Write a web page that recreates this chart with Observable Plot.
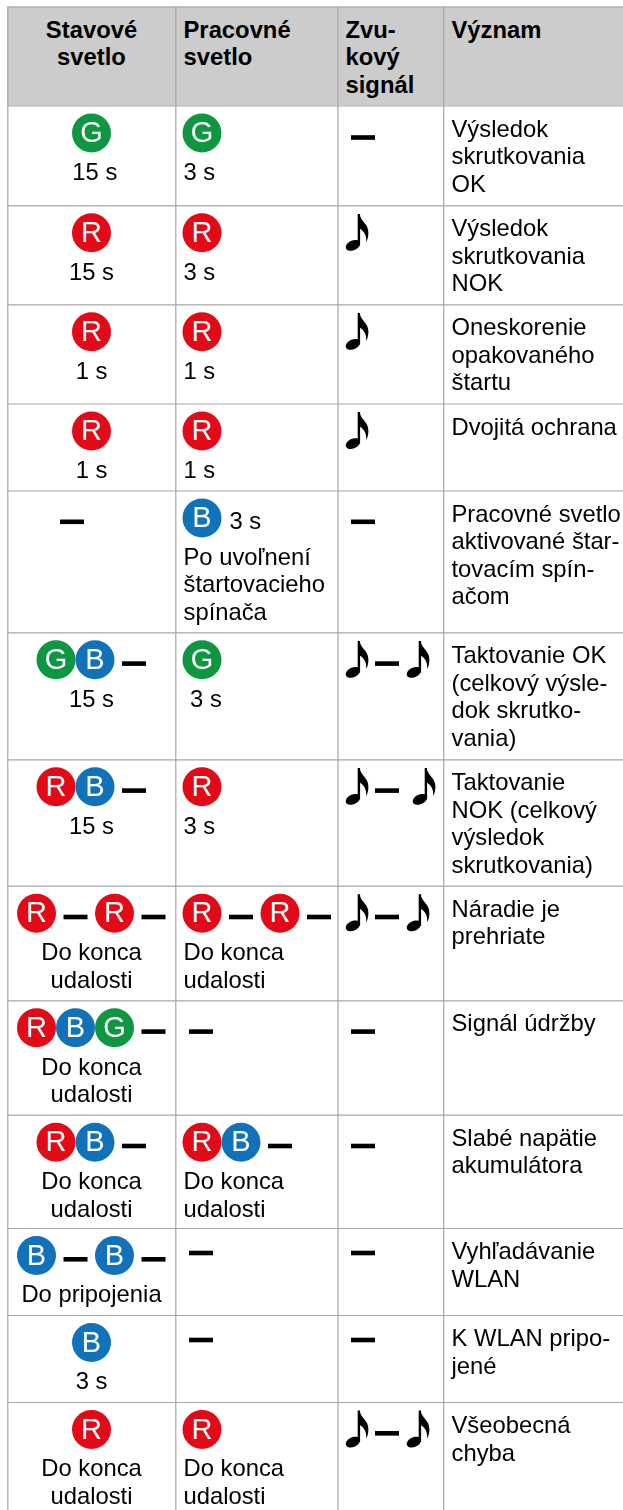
<!DOCTYPE html>
<html>
<head>
<meta charset="utf-8">
<style>html,body{margin:0;padding:0;background:#fff}svg{display:block}</style>
<script src="https://cdn.jsdelivr.net/npm/d3@7"></script>
<script src="https://cdn.jsdelivr.net/npm/@observablehq/plot@0.6"></script>
</head>
<body>
<div id="chart"></div>
<script>
// --- content ---
const headers = ["Stavové\nsvetlo", "Pracovné\nsvetlo", "Zvu-\nkový\nsignál", "Význam"];
const statusLights = ["G","R","R","R","- ","GB-","RB-","R-R-","RBG-","RB-","B-B-","B","R"];
const statusLabels = [" 15 s","15 s","1 s","1 s","","15 s","15 s","Do konca\nudalosti","Do konca\nudalosti","Do konca\nudalosti","Do pripojenia","3 s","Do konca\nudalosti"];
const workLights = ["G","R","R","R","B","G","R","R-R-","-","RB-","-","-","R"];
const workInline = ["","","","","3 s","","","","","","","",""];
const workLabels = ["3 s","3 s","1 s","1 s","Po uvoľnení\nštartovacieho\nspínača"," 3 s","3 s","Do konca\nudalosti","","Do konca\nudalosti","","","Do konca\nudalosti"];
const sounds = ["-","N","N","N","-","N-N","N- N","N-N","-","-","-","-","N-N"];
const meanings = [
  "Výsledok\nskrutkovania\nOK","Výsledok\nskrutkovania\nNOK","Oneskorenie\nopakovaného\nštartu","Dvojitá ochrana",
  "Pracovné svetlo\naktivované štar-\ntovacím spín-\načom","Taktovanie OK\n(celkový výsle-\ndok skrutko-\nvania)",
  "Taktovanie\nNOK (celkový\nvýsledok\nskrutkovania)","Náradie je\nprehriate","Signál údržby","Slabé napätie\nakumulátora",
  "Vyhľadávanie\nWLAN","K WLAN pripo-\njené","Všeobecná\nchyba"
];
const lightColors = {G:"#0f9640", R:"#e30a17", B:"#1272b9"};

// --- layout of the table grid, in page units ---
const colEdges = [7.3, 175.3, 337.5, 443.2];
const rowEdges = [6.5,105.5,205.3,304.3,403.5,490.5,632.3,759.3,885.7,1000.3,1114.7,1228,1315,1402];
const pageW = 623, pageH = 1510;
const status_cx = 91, workX = 182, soundX = 345, textX = [183, 451];
const lightW = 39, dashW = 24, dashIn = 8, circleY = 27, dashY = 31.3, raisedDashY = 25, dashH = 4.6;
const raisedDashRows = [10, 11];
const noteW = 30, soundDashW = 31, gapW = 6;

// eighth-note glyph as a Plot dot symbol, origin at the centre of the note head
const noteSymbol = {
  draw(ctx) {
    const rx = 7.6, ry = 4.8, tilt = -25 * Math.PI / 180;
    for (let i = 0; i < 32; i++) {
      const a = i / 32 * 2 * Math.PI;
      const px = rx * Math.cos(a) * Math.cos(tilt) - ry * Math.sin(a) * Math.sin(tilt);
      const py = rx * Math.cos(a) * Math.sin(tilt) + ry * Math.sin(a) * Math.cos(tilt);
      i ? ctx.lineTo(px, py) : ctx.moveTo(px, py);
    }
    ctx.closePath();
    ctx.moveTo(4.8, 0); ctx.lineTo(4.8, -31.5); ctx.lineTo(7.2, -31.5); ctx.lineTo(7.2, 0); ctx.closePath();
    ctx.moveTo(6.8, -31.5);
    ctx.bezierCurveTo(7.5, -24, 15.5, -22, 15.5, -13);
    ctx.bezierCurveTo(15.5, -9, 14.8, -6, 13.2, -3.5);
    ctx.bezierCurveTo(13.8, -10, 11.5, -14, 7, -17);
    ctx.closePath();
  }
};

const dots = [], dashes = [], notes = [];
function layLights(str, row, startX) {
  const top = rowEdges[row + 1];
  str.split("").forEach((c, i) => {
    const p = startX + i * lightW;
    if (c === "-") {
      const solo = str === "-" && raisedDashRows.includes(row);
      const shift = str === "-" ? 1 : 0;
      dashes.push({x1: p + dashIn - shift, x2: p + dashIn + dashW - shift, y: top + (solo ? raisedDashY : dashY)});
    } else if (c !== " ") {
      dots.push({x: p + lightW / 2, y: top + circleY, c});
    }
  });
}
statusLights.forEach((s, r) => {
  const last = s[s.length - 1];
  const extent = lightW * (s.length - 1) + (last === "-" ? dashIn + dashW : lightW);
  layLights(s, r, status_cx - extent / 2);
});
workLights.forEach((s, r) => layLights(s, r, workX));
sounds.forEach((s, r) => {
  const top = rowEdges[r + 1];
  let p = soundX;
  s.split("").forEach((c, i) => {
    if (c === "N") { notes.push({x: p + 7.4, y: top + 39.6}); p += noteW; }
    else if (c === " ") { p += gapW; }
    else {
      const off = i === 0 ? gapW : 0;
      const solo = raisedDashRows.includes(r);
      dashes.push({x1: p + off, x2: p + off + dashW, y: top + (solo ? raisedDashY : dashY) + (r === 0 ? 0.7 : 0)});
      p += soundDashW;
    }
  });
});

const bodyRows = d3.range(meanings.length);
const textOpts = {fontFamily: "Liberation Sans", fontSize: 23.8, lineHeight: 27.5 / 23.8, lineAnchor: "top", fill: "#000"};

const chart = Plot.plot({
  width: pageW, height: pageH,
  margin: 0,
  style: {filter: "blur(0.3px)"},
  x: {domain: [0, pageW], range: [0, pageW], axis: null},
  y: {domain: [0, pageH], range: [0, pageH], axis: null},
  marks: [
    Plot.rect([0], {x1: colEdges[0], x2: pageW, y1: rowEdges[0], y2: rowEdges[1], fill: "#cccccc"}),
    Plot.ruleY(rowEdges, {x1: colEdges[0], x2: pageW, stroke: "#a6a6a6", strokeWidth: 1.2, strokeOpacity: 1}),
    Plot.ruleX(colEdges, {y1: rowEdges[0], y2: pageH, stroke: "#a6a6a6", strokeWidth: 1.2, strokeOpacity: 1}),
    // header
    Plot.text(headers.slice(1), {...textOpts, text: d => d, fontWeight: "bold",
      x: (d, i) => i === 0 ? textX[0] : i === 1 ? soundX : textX[1],
      y: () => rowEdges[0] + 11, textAnchor: "start"}),
    Plot.text(headers.slice(0, 1), {...textOpts, text: d => d, fontWeight: "bold", x: status_cx, y: rowEdges[0] + 11, textAnchor: "middle"}),
    // lights
    Plot.dot(dots, {x: "x", y: "y", r: lightW / 2, fill: d => lightColors[d.c], stroke: "none"}),
    Plot.text(dots, {x: "x", y: "y", text: "c", fontFamily: "Liberation Sans", fontSize: 29, fill: "#fff", lineAnchor: "middle"}),
    Plot.rect(dashes, {x1: "x1", x2: "x2", y1: d => d.y - dashH / 2, y2: d => d.y + dashH / 2, fill: "#000"}),
    // notes
    Plot.dot(notes, {x: "x", y: "y", symbol: noteSymbol, fill: "#000", stroke: "none"}),
    // labels
    Plot.text(bodyRows, {...textOpts, text: r => statusLabels[r], x: status_cx, y: r => rowEdges[r + 1] + 54.3, textAnchor: "middle"}),
    Plot.text(bodyRows, {...textOpts, text: r => workLabels[r], x: textX[0], y: r => rowEdges[r + 1] + 54.3, textAnchor: "start"}),
    Plot.text(bodyRows, {...textOpts, text: r => workInline[r], x: textX[0] + 46, y: r => rowEdges[r + 1] + 18.8, textAnchor: "start"}),
    Plot.text(bodyRows, {...textOpts, text: r => meanings[r], x: textX[1], y: r => rowEdges[r + 1] + 11, textAnchor: "start"})
  ]
});
document.getElementById("chart").append(chart);
</script>
</body>
</html>
